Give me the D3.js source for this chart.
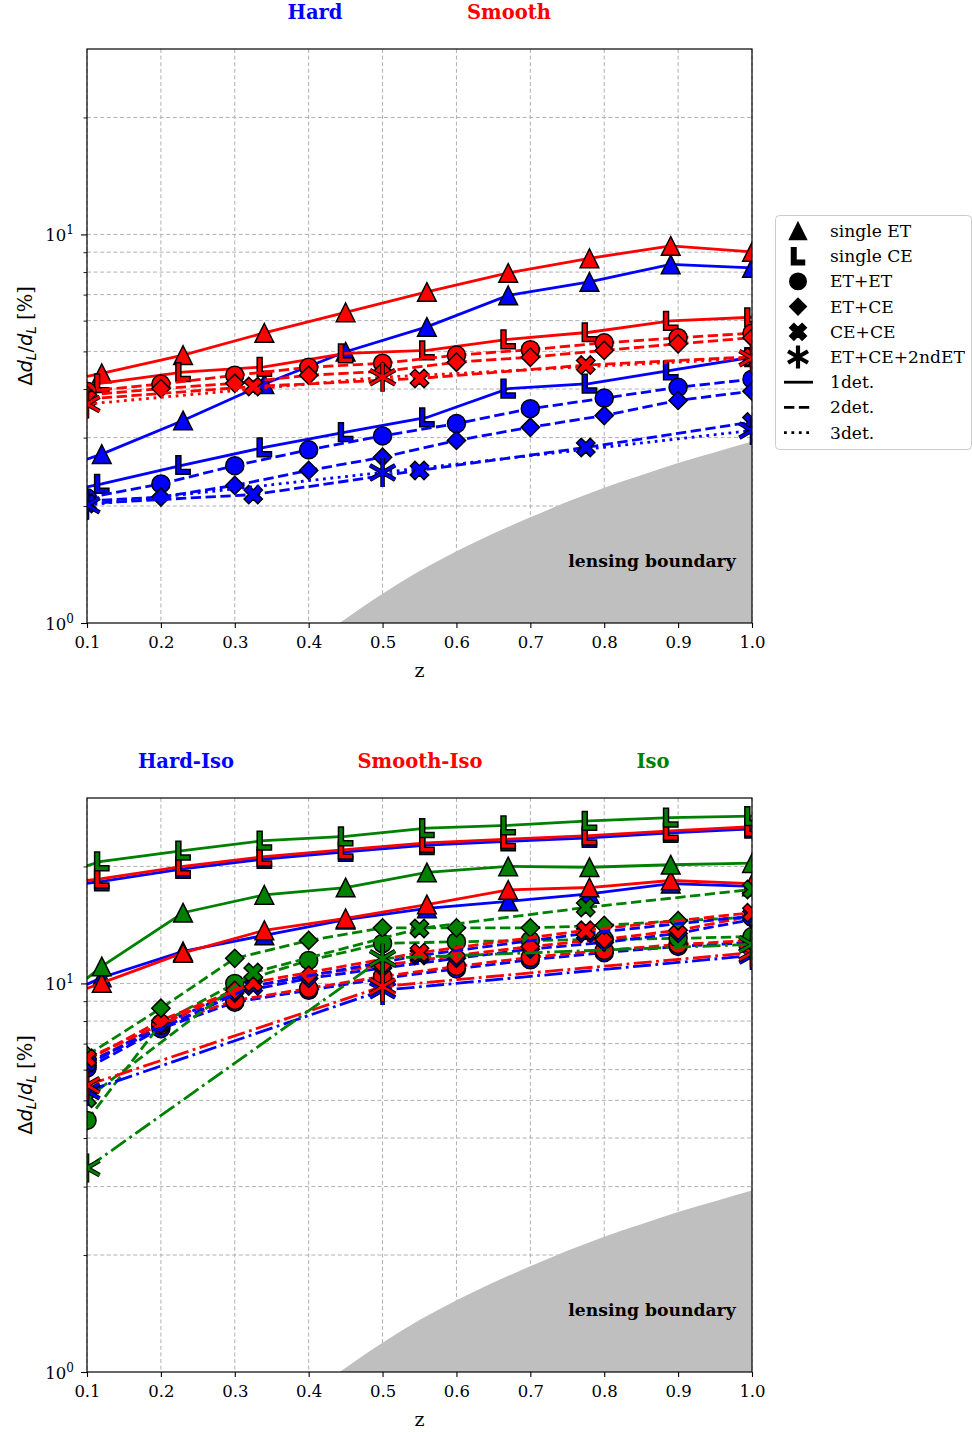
<!DOCTYPE html>
<html>
<head>
<meta charset="utf-8">
<script src="https://cdn.jsdelivr.net/npm/d3@7"></script>
<style>
  body { margin: 0; background: #fff; }
  svg { display: block; }
</style>
</head>
<body>
<svg id="fig" width="972" height="1432"></svg>
<script>
// ---------------- redshift grids ----------------
const zSingle = [0.1, 0.12, 0.23, 0.34, 0.45, 0.56, 0.67, 0.78, 0.89, 1.0];
const zPair   = [0.1, 0.2, 0.3, 0.4, 0.5, 0.6, 0.7, 0.8, 0.9, 1.0];
const zCECE   = [0.1, 0.325, 0.55, 0.775, 1.0];
const zTriple = [0.1, 0.5, 1.0];

// ---------------- relative distance error [%], upper panel ----------------
const hardET      = [2.64, 2.72, 3.32, 4.12, 4.99, 5.78, 6.97, 7.55, 8.37, 8.20];
const smoothET    = [4.31, 4.39, 4.89, 5.58, 6.30, 7.11, 7.96, 8.68, 9.34, 9.02];
const hardCE      = [2.24, 2.28, 2.55, 2.83, 3.10, 3.38, 4.01, 4.13, 4.47, 4.83];
const smoothCE    = [4.09, 4.14, 4.42, 4.56, 4.94, 5.03, 5.37, 5.60, 5.99, 6.12];
const hardETET    = [2.10, 2.28, 2.54, 2.79, 3.03, 3.26, 3.56, 3.79, 4.04, 4.24];
const smoothETET  = [3.95, 4.12, 4.34, 4.55, 4.66, 4.89, 5.05, 5.26, 5.42, 5.57];
const hardETCE    = [2.06, 2.11, 2.26, 2.47, 2.67, 2.95, 3.19, 3.42, 3.74, 3.95];
const smoothETCE  = [3.86, 4.01, 4.14, 4.34, 4.44, 4.69, 4.83, 5.03, 5.23, 5.42];
const hardCECE    = [2.03, 2.14, 2.47, 2.83, 3.29];
const smoothCECE  = [3.77, 4.06, 4.26, 4.61, 4.84];
const hardTriple  = [2.01, 2.44, 3.13];
const smoothTriple= [3.66, 4.29, 4.80];

// ---------------- relative distance error [%], lower panel ----------------
const hardIsoET     = [9.94, 10.36, 12.09, 13.29, 14.6, 15.6, 16.25, 17.0, 18.07, 17.76];
const smoothIsoET   = [9.71, 10.03, 11.98, 13.7, 14.7, 15.96, 17.4, 17.65, 18.4, 18.07];
const isoET         = [10.3, 11.06, 15.2, 16.9, 17.65, 19.3, 20.0, 19.9, 20.2, 20.4];
const hardIsoCE     = [18.1, 18.3, 19.7, 20.9, 21.8, 22.7, 23.2, 23.7, 24.4, 25.0];
const smoothIsoCE   = [18.4, 18.6, 20.0, 21.2, 22.1, 23.0, 23.5, 24.0, 24.7, 25.3];
const isoCE         = [20.1, 20.6, 21.97, 23.3, 23.9, 25.1, 25.5, 26.2, 26.7, 26.96];
const hardIsoETET   = [6.05, 7.65, 8.95, 9.6, 10.3, 10.9, 11.5, 12.0, 12.45, 12.75];
const smoothIsoETET = [6.23, 7.80, 9.04, 9.71, 10.42, 11.06, 11.67, 12.16, 12.6, 12.9];
const isoETET       = [4.44, 7.89, 10.0, 11.46, 12.67, 12.8, 12.9, 12.98, 13.06, 13.2];
const hardIsoETCE   = [6.15, 7.85, 9.45, 10.3, 10.95, 11.6, 12.25, 12.75, 13.45, 14.6];
const smoothIsoETCE = [6.34, 8.03, 9.60, 10.5, 11.13, 11.8, 12.45, 12.98, 13.7, 14.9];
const isoETCE       = [6.53, 8.63, 11.6, 12.9, 13.9, 13.9, 13.9, 14.1, 14.5, 14.8];
const hardIsoCECE   = [6.25, 9.85, 11.8, 13.45, 14.9];
const smoothIsoCECE = [6.42, 10.06, 12.0, 13.7, 15.2];
const isoCECE       = [5.06, 10.67, 13.85, 15.68, 17.45];
const hardIsoTriple = [5.28, 9.60, 11.8];
const smoothIsoTriple = [5.47, 9.82, 12.0];
const isoTriple     = [3.35, 11.6, 12.6];

// ---------------- weak-lensing floor [%] ----------------
const lensZ = [0.442, 0.5, 0.55, 0.6, 0.65, 0.7, 0.75, 0.8, 0.85, 0.9, 0.95, 1.0];
const lensV = [1.0, 1.19, 1.36, 1.53, 1.70, 1.87, 2.05, 2.23, 2.40, 2.58, 2.75, 2.93];

// ---------------- ticks and labels ----------------
const xTicks = [0.1, 0.2, 0.3, 0.4, 0.5, 0.6, 0.7, 0.8, 0.9, 1.0];
const yMajor = [1, 10];
const yMajorExp = ["0", "1"];
const yMinor = [2, 3, 4, 5, 6, 7, 8, 9, 20];
const legendLabels = ["single ET", "single CE", "ET+ET", "ET+CE", "CE+CE", "ET+CE+2ndET", "1det.", "2det.", "3det."];
const topTitles = ["Hard", "Smooth"];
const bottomTitles = ["Hard-Iso", "Smooth-Iso", "Iso"];

// ---------------- styling ----------------
const BLUE = "#0000ff", RED = "#ff0000", GREEN = "#008000";
const LW = 2.8;
const MS = 1.1;   // marker scale
const DASH = {
  solid: null,
  dashed: [3.7 * LW, 1.6 * LW].join(","),
  dotted: [1 * LW, 1.65 * LW].join(","),
  dashdot: [6.4 * LW, 1.6 * LW, 1 * LW, 1.6 * LW].join(",")
};
const CFG = {
  ET:     { marker: "tri",      dash: "solid",  markFrom: 1 },
  CE:     { marker: "L",        dash: "solid",  markFrom: 1 },
  ETET:   { marker: "circle",   dash: "dashed", markFrom: 0 },
  ETCE:   { marker: "diamond",  dash: "dashed", markFrom: 0 },
  CECE:   { marker: "x",        dash: "dashed", markFrom: 0 },
  TRIPLE: { marker: "asterisk", dash: "dotted", markFrom: 0 }
};
const SERIF = "'DejaVu Serif', serif";
const SANS = "'DejaVu Sans', sans-serif";

const svg = d3.select("#fig");
const X0 = 87, X1 = 752;
const x = d3.scaleLinear().domain([0.1, 1.0]).range([X0, X1]);

// ---------------- marker shapes ----------------
function rot45(pts) {
  const c = Math.SQRT1_2;
  return pts.map(([px, py]) => [px * c - py * c, px * c + py * c]);
}
const xShape = (() => {
  const a = 3.0, L = 8.8;
  return rot45([[a,-L],[a,-a],[L,-a],[L,a],[a,a],[a,L],[-a,L],[-a,a],[-L,a],[-L,-a],[-a,-a],[-a,-L]]);
})();
const lShape = [[-6.5,-8.5],[-2,-8.5],[-2,4],[6.5,4],[6.5,8.5],[-6.5,8.5]];

function drawMarker(g, type, cx, cy, fill, scale = 1) {
  const m = g.append("g").attr("transform", `translate(${cx},${cy}) scale(${scale})`);
  const poly = pts => "M" + pts.map(p => p.join(",")).join("L") + "Z";
  let el;
  if (type === "tri") {
    el = m.append("path").attr("d", "M0,-8.5L8.5,8.5L-8.5,8.5Z");
  } else if (type === "circle") {
    el = m.append("circle").attr("r", 8.2);
  } else if (type === "diamond") {
    el = m.append("path").attr("d", "M0,-8.3L8.3,0L0,8.3L-8.3,0Z");
  } else if (type === "x") {
    el = m.append("path").attr("d", poly(xShape));
  } else if (type === "L") {
    el = m.append("path").attr("d", poly(lShape));
  } else if (type === "asterisk") {
    const r = 13.5, a = Math.PI / 6;
    const d = `M0,${-r}L0,${r}M${-r * Math.cos(a)},${-r * Math.sin(a)}L${r * Math.cos(a)},${r * Math.sin(a)}` +
              `M${-r * Math.cos(a)},${r * Math.sin(a)}L${r * Math.cos(a)},${-r * Math.sin(a)}`;
    if (fill === "#000") {
      m.append("path").attr("d", d).attr("stroke", "#000").attr("stroke-width", 4.2 / scale).attr("fill", "none");
    } else {
      m.append("path").attr("d", d).attr("stroke", "#000").attr("stroke-width", 4.6 / scale).attr("fill", "none");
      m.append("path").attr("d", d).attr("stroke", fill).attr("stroke-width", 2.6 / scale).attr("fill", "none");
    }
    return;
  }
  el.attr("fill", fill).attr("stroke", "#000").attr("stroke-width", 1.5 / scale).attr("stroke-linejoin", "miter");
}

// ---------------- one panel ----------------
function drawPanel(p, idx) {
  const y = d3.scaleLog().domain([1, 30]).range([p.bottom, p.top]);
  const g = svg.append("g");
  const clipId = "clip" + idx;
  svg.append("clipPath").attr("id", clipId)
    .append("rect").attr("x", X0).attr("y", p.top).attr("width", X1 - X0).attr("height", p.bottom - p.top);

  // grid
  const grid = g.append("g").attr("stroke", "#b0b0b0").attr("stroke-width", 1).attr("stroke-dasharray", "4,2.6");
  xTicks.forEach(t => grid.append("line").attr("x1", x(t)).attr("x2", x(t)).attr("y1", p.top).attr("y2", p.bottom));
  yMinor.concat([10]).forEach(t => grid.append("line").attr("x1", X0).attr("x2", X1).attr("y1", y(t)).attr("y2", y(t)));

  // lensing floor
  const area = d3.area().x((d, i) => x(lensZ[i])).y0(p.bottom).y1(d => y(d)).curve(d3.curveMonotoneX);
  g.append("path").attr("clip-path", `url(#${clipId})`).attr("d", area(lensV)).attr("fill", "#bfbfbf");
  g.append("text").attr("x", 652).attr("y", y(1) - 56).attr("text-anchor", "middle")
    .attr("font-family", SERIF).attr("font-weight", "bold").attr("font-size", 17.2).text("lensing boundary");

  // series
  const data = g.append("g").attr("clip-path", `url(#${clipId})`);
  p.series.forEach(s => {
    const cfg = CFG[s.cfg];
    const dash = s.cfg === "TRIPLE" ? p.tripleDash : cfg.dash;
    const line = d3.line().x((d, i) => x(s.z[i])).y(d => y(d));
    data.append("path").attr("d", line(s.v)).attr("fill", "none").attr("stroke", s.color)
      .attr("stroke-width", LW).attr("stroke-dasharray", DASH[dash]);
    s.v.forEach((v, i) => {
      if (i >= cfg.markFrom) drawMarker(data, cfg.marker, x(s.z[i]), y(v), s.color, cfg.marker === "asterisk" ? 1.08 : MS);
    });
  });

  // axes frame
  g.append("rect").attr("x", X0).attr("y", p.top).attr("width", X1 - X0).attr("height", p.bottom - p.top)
    .attr("fill", "none").attr("stroke", "#000").attr("stroke-width", 1.2);

  // x axis
  const xa = g.append("g").attr("transform", `translate(0,${p.bottom})`)
    .call(d3.axisBottom(x).tickValues(xTicks).tickFormat(d3.format(".1f")).tickSize(5).tickPadding(8));
  xa.select(".domain").remove();
  xa.selectAll("line").attr("stroke", "#000").attr("stroke-width", 1.1);
  xa.selectAll("text").attr("font-family", SERIF).attr("font-size", 16.5).attr("fill", "#000");
  g.append("text").attr("x", (X0 + X1) / 2).attr("y", p.bottom + 54).attr("text-anchor", "middle")
    .attr("font-family", SERIF).attr("font-size", 19).text("z");

  // y axis: minor and major ticks
  const ymin = g.append("g").attr("transform", `translate(${X0},0)`)
    .call(d3.axisLeft(y).tickValues(yMinor).tickFormat("").tickSize(3.5));
  ymin.select(".domain").remove();
  ymin.selectAll("line").attr("stroke", "#000").attr("stroke-width", 0.9);
  const ymaj = g.append("g").attr("transform", `translate(${X0},0)`)
    .call(d3.axisLeft(y).tickValues(yMajor).tickFormat("").tickSize(6));
  ymaj.select(".domain").remove();
  ymaj.selectAll("line").attr("stroke", "#000").attr("stroke-width", 1.1);
  yMajor.forEach((t, i) => {
    const tx = g.append("text").attr("x", 74).attr("y", y(t) + 7).attr("text-anchor", "end")
      .attr("font-family", SERIF).attr("font-size", 16.5);
    tx.append("tspan").text("10");
    tx.append("tspan").attr("dy", -7.5).attr("font-size", 12).text(yMajorExp[i]);
  });

  // y label
  const yl = g.append("text").attr("transform", `translate(32,${(p.top + p.bottom) / 2}) rotate(-90)`)
    .attr("text-anchor", "middle").attr("font-size", 19.5).attr("font-family", SANS);
  yl.append("tspan").text("\u0394");
  yl.append("tspan").attr("font-style", "italic").text("d");
  yl.append("tspan").attr("font-style", "italic").attr("font-size", 13.5).attr("dy", 4).text("L");
  yl.append("tspan").attr("dy", -4).text("/");
  yl.append("tspan").attr("font-style", "italic").text("d");
  yl.append("tspan").attr("font-style", "italic").attr("font-size", 13.5).attr("dy", 4).text("L");
  yl.append("tspan").attr("dy", -4).attr("font-family", SERIF).text(" [%]");

  // panel titles
  p.titles.forEach((t, i) => {
    svg.append("text").attr("x", p.titleX[i]).attr("y", p.titleY).attr("text-anchor", "middle")
      .attr("font-family", SERIF).attr("font-weight", "bold").attr("font-size", 19.5)
      .attr("fill", p.titleColors[i]).text(t);
  });
}

const mk = (cfg, z, v, color) => ({ cfg, z, v, color });

const panels = [
  {
    top: 49, bottom: 623, tripleDash: "dotted",
    titles: topTitles, titleX: [315, 509], titleY: 19, titleColors: [BLUE, RED],
    series: [
      mk("ET", zSingle, hardET, BLUE), mk("ET", zSingle, smoothET, RED),
      mk("CE", zSingle, hardCE, BLUE), mk("CE", zSingle, smoothCE, RED),
      mk("ETET", zPair, hardETET, BLUE), mk("ETET", zPair, smoothETET, RED),
      mk("ETCE", zPair, hardETCE, BLUE), mk("ETCE", zPair, smoothETCE, RED),
      mk("CECE", zCECE, hardCECE, BLUE), mk("CECE", zCECE, smoothCECE, RED),
      mk("TRIPLE", zTriple, hardTriple, BLUE), mk("TRIPLE", zTriple, smoothTriple, RED)
    ]
  },
  {
    top: 798, bottom: 1372, tripleDash: "dashdot",
    titles: bottomTitles, titleX: [186, 420, 653], titleY: 768, titleColors: [BLUE, RED, GREEN],
    series: [
      mk("ET", zSingle, hardIsoET, BLUE), mk("ET", zSingle, smoothIsoET, RED), mk("ET", zSingle, isoET, GREEN),
      mk("CE", zSingle, hardIsoCE, BLUE), mk("CE", zSingle, smoothIsoCE, RED), mk("CE", zSingle, isoCE, GREEN),
      mk("ETET", zPair, hardIsoETET, BLUE), mk("ETET", zPair, smoothIsoETET, RED), mk("ETET", zPair, isoETET, GREEN),
      mk("ETCE", zPair, hardIsoETCE, BLUE), mk("ETCE", zPair, smoothIsoETCE, RED), mk("ETCE", zPair, isoETCE, GREEN),
      mk("CECE", zCECE, hardIsoCECE, BLUE), mk("CECE", zCECE, smoothIsoCECE, RED), mk("CECE", zCECE, isoCECE, GREEN),
      mk("TRIPLE", zTriple, hardIsoTriple, BLUE), mk("TRIPLE", zTriple, smoothIsoTriple, RED), mk("TRIPLE", zTriple, isoTriple, GREEN)
    ]
  }
];
panels.forEach(drawPanel);

// ---------------- legend ----------------
const leg = svg.append("g");
leg.append("rect").attr("x", 775.5).attr("y", 215.5).attr("width", 196).attr("height", 234).attr("rx", 4)
  .attr("fill", "#fff").attr("stroke", "#cccccc").attr("stroke-width", 1);
const legMarkers = ["tri", "L", "circle", "diamond", "x", "asterisk"];
const legDash = ["solid", "dashed", "dotted"];
legendLabels.forEach((lab, i) => {
  const cy = 231 + i * 25.2;
  if (i < legMarkers.length) {
    drawMarker(leg, legMarkers[i], 798, cy, "#000", legMarkers[i] === "asterisk" ? 0.85 : 1);
  } else {
    leg.append("line").attr("x1", 784).attr("x2", 813).attr("y1", cy).attr("y2", cy)
      .attr("stroke", "#000").attr("stroke-width", LW).attr("stroke-dasharray", DASH[legDash[i - legMarkers.length]]);
  }
  leg.append("text").attr("x", 830).attr("y", cy + 6).attr("font-family", SERIF).attr("font-size", 17.1).text(lab);
});
</script>
</body>
</html>
